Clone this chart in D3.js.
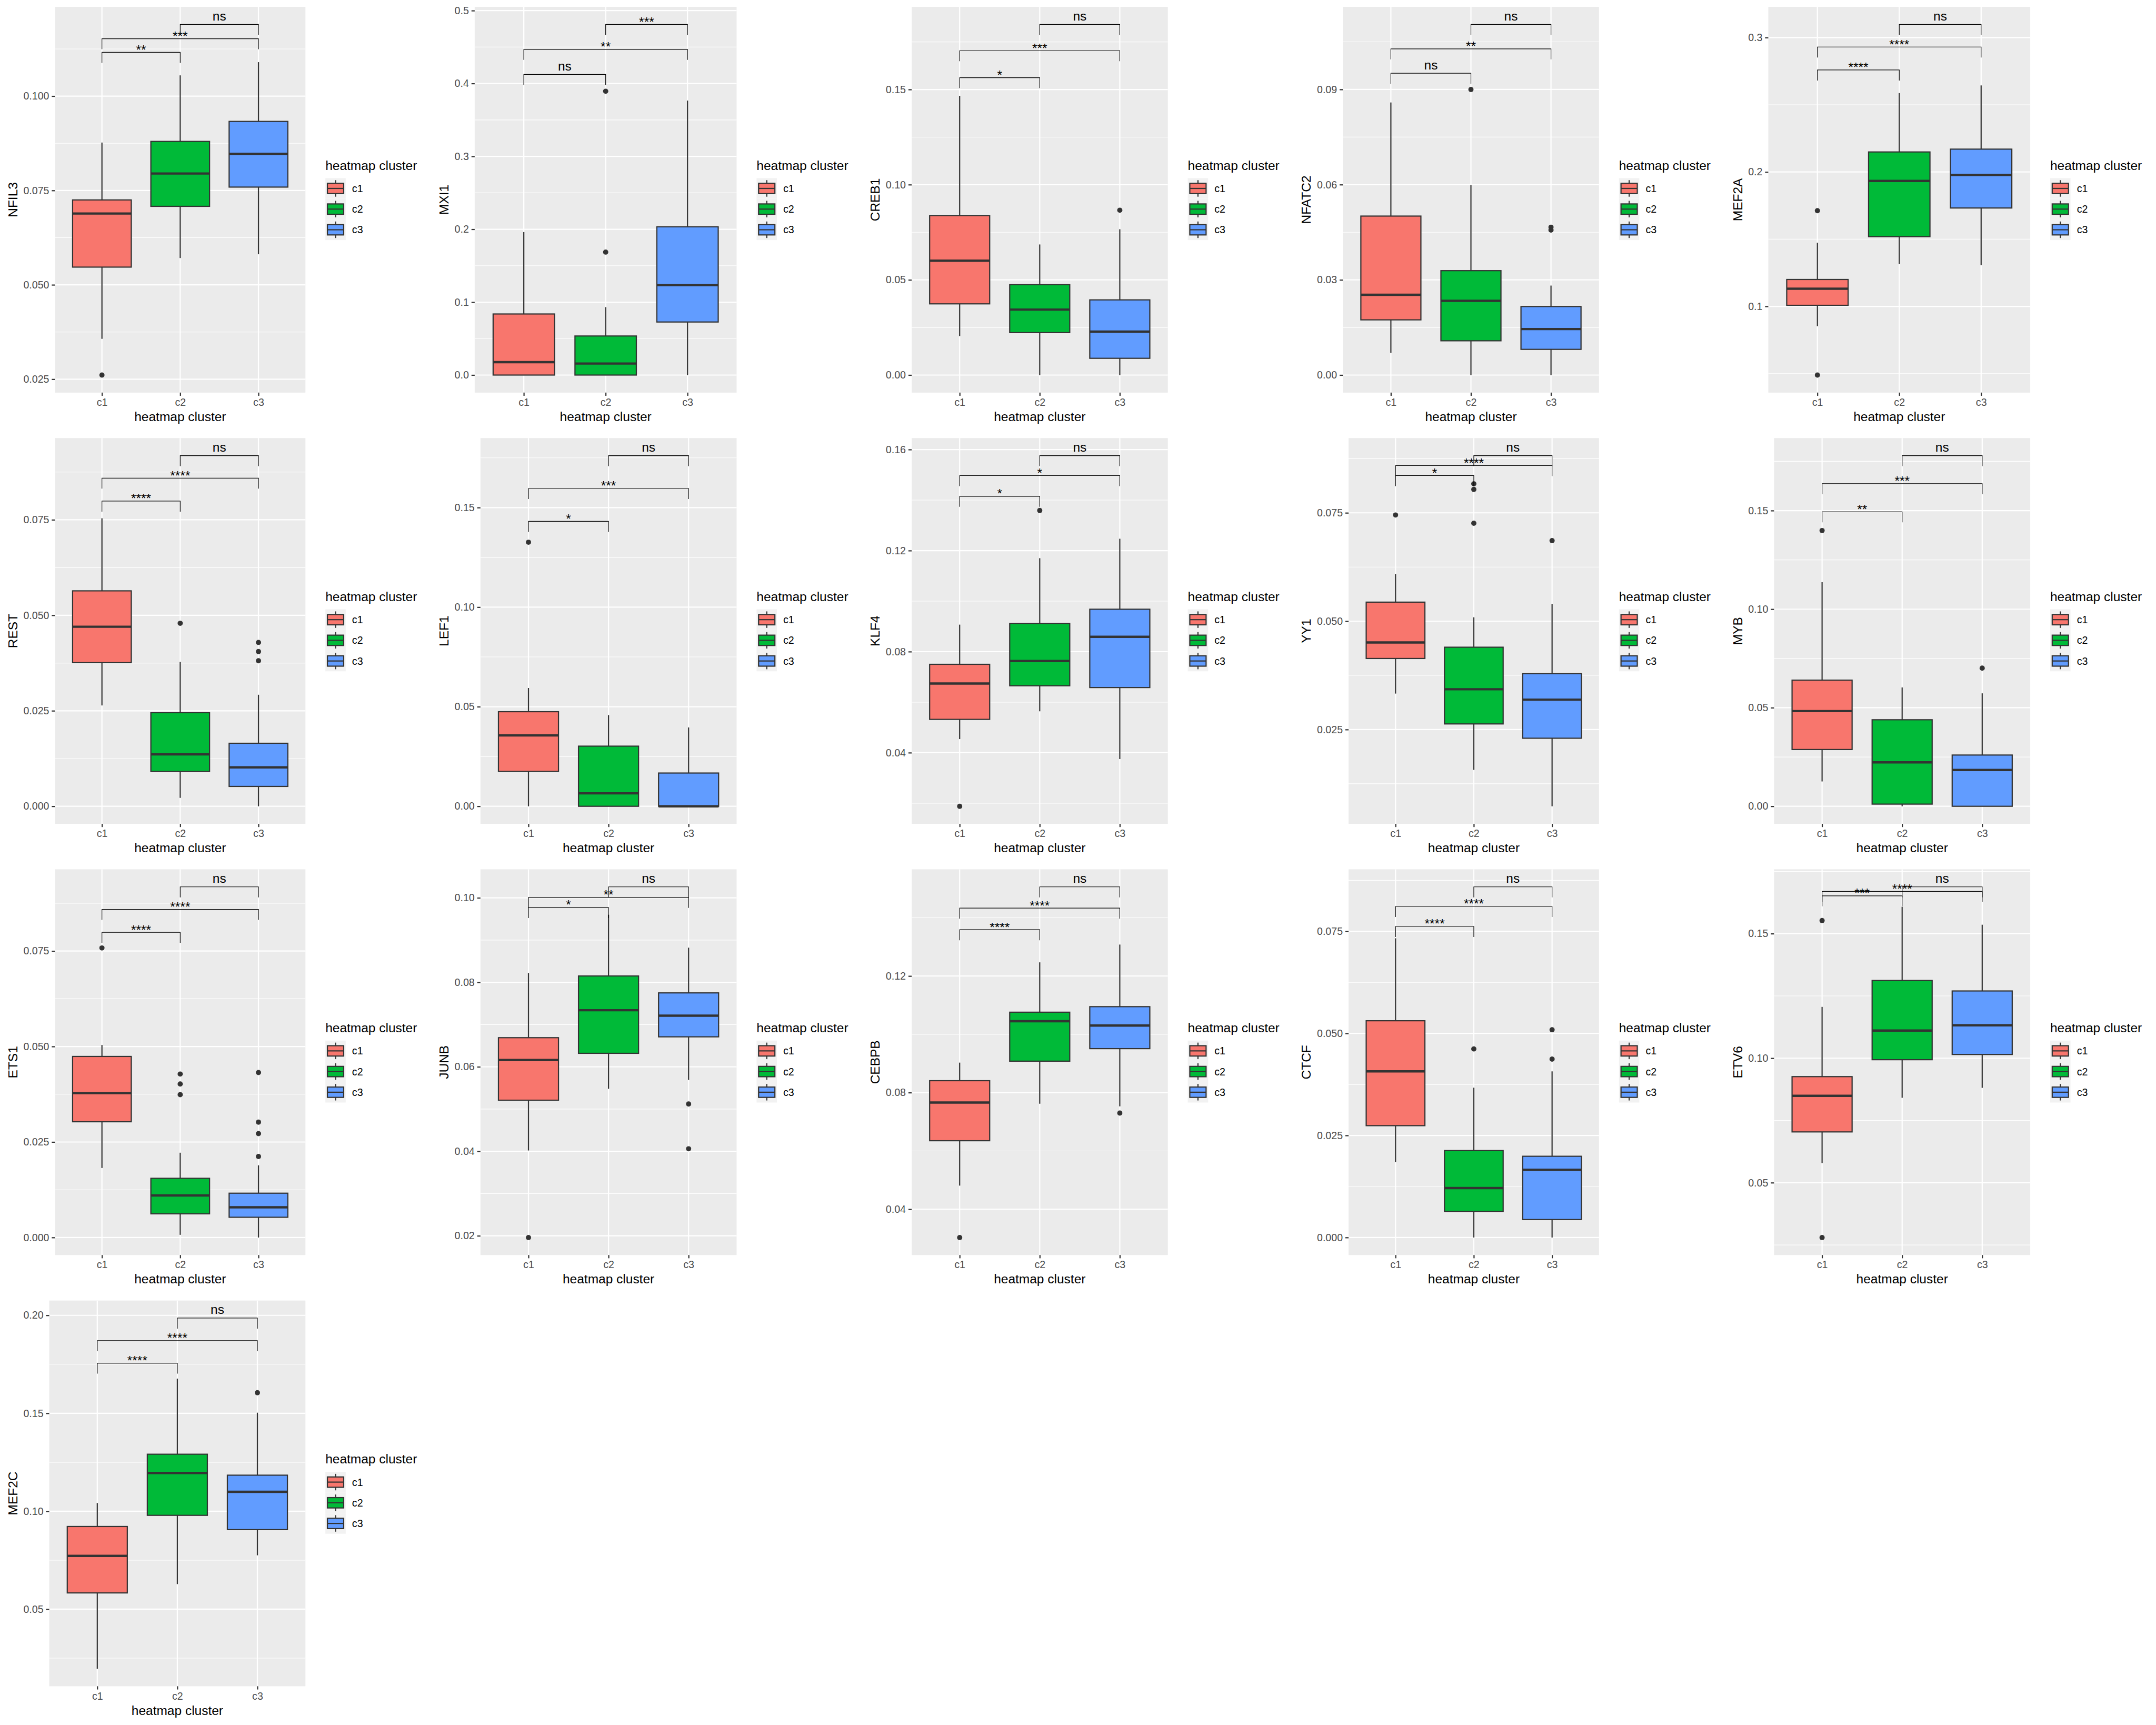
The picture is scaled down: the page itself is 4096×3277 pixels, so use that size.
<!DOCTYPE html>
<html><head><meta charset="utf-8">
<script src="https://cdn.jsdelivr.net/npm/d3@7"></script>
<style>html,body{margin:0;padding:0;background:#fff} svg{display:block}</style>
</head><body><svg id="chart" width="4096" height="3277"></svg>
<script>
// ---------------- data ----------------
const genes = ["NFIL3","MXI1","CREB1","NFATC2","MEF2A",
               "REST","LEF1","KLF4","YY1","MYB",
               "ETS1","JUNB","CEBPB","CTCF","ETV6",
               "MEF2C"];
const clusters = ["c1","c2","c3"];
const clusterColors = ["#F8766D","#00BA38","#619CFF"];
const xTitle = "heatmap cluster";
const legendTitle = "heatmap cluster";

const yTickLabels = [
  ["0.025","0.050","0.075","0.100"],
  ["0.0","0.1","0.2","0.3","0.4","0.5"],
  ["0.00","0.05","0.10","0.15"],
  ["0.00","0.03","0.06","0.09"],
  ["0.1","0.2","0.3"],
  ["0.000","0.025","0.050","0.075"],
  ["0.00","0.05","0.10","0.15"],
  ["0.04","0.08","0.12","0.16"],
  ["0.025","0.050","0.075"],
  ["0.00","0.05","0.10","0.15"],
  ["0.000","0.025","0.050","0.075"],
  ["0.02","0.04","0.06","0.08","0.10"],
  ["0.04","0.08","0.12"],
  ["0.000","0.025","0.050","0.075"],
  ["0.05","0.10","0.15"],
  ["0.05","0.10","0.15","0.20"]
];

// per gene, per cluster: [lower whisker, Q1, median, Q3, upper whisker]
const boxStats = [
  [[0.0357,0.0547,0.0689,0.0725,0.0877],[0.0571,0.0708,0.0795,0.0880,0.1055],[0.0581,0.0759,0.0847,0.0933,0.1090]],
  [[0,0,0.0177,0.0838,0.1962],[0,0,0.0158,0.0536,0.0932],[0,0.0728,0.1234,0.2034,0.3766]],
  [[0.0205,0.0374,0.0601,0.0838,0.1467],[0,0.0223,0.0344,0.0475,0.0686],[0,0.0088,0.0228,0.0395,0.0766]],
  [[0.0070,0.0174,0.0253,0.0501,0.0859],[0,0.0108,0.0234,0.0329,0.0599],[0,0.0081,0.0145,0.0216,0.0282]],
  [[0.0853,0.1008,0.1131,0.1200,0.1474],[0.1315,0.1519,0.1933,0.2149,0.2587],[0.1307,0.1732,0.1978,0.2170,0.2644]],
  [[0.0264,0.0376,0.0470,0.0564,0.0754],[0.0022,0.0091,0.0136,0.0245,0.0378],[0,0.0052,0.0102,0.0165,0.0292]],
  [[0,0.0175,0.0356,0.0475,0.0594],[0,0,0.0065,0.0302,0.0458],[0,0,0,0.0167,0.0396]],
  [[0.0454,0.0532,0.0674,0.0750,0.0907],[0.0564,0.0665,0.0763,0.0912,0.1170],[0.0375,0.0658,0.0859,0.0968,0.1247]],
  [[0.0333,0.0414,0.0451,0.0544,0.0609],[0.0157,0.0263,0.0343,0.0440,0.0509],[0.0073,0.0230,0.0319,0.0379,0.0540]],
  [[0.0126,0.0288,0.0483,0.0640,0.1137],[0,0.0011,0.0223,0.0439,0.0603],[0,0,0.0184,0.0260,0.0573]],
  [[0.0182,0.0303,0.0378,0.0474,0.0504],[0.0007,0.0062,0.0110,0.0155,0.0222],[0,0.0053,0.0079,0.0116,0.0189]],
  [[0.0402,0.0521,0.0616,0.0669,0.0822],[0.0548,0.0632,0.0734,0.0815,0.0960],[0.0569,0.0671,0.0721,0.0775,0.0882]],
  [[0.0481,0.0635,0.0766,0.0841,0.0903],[0.0762,0.0908,0.1045,0.1076,0.1247],[0.0753,0.0951,0.1030,0.1095,0.1308]],
  [[0.0185,0.0274,0.0407,0.0531,0.0733],[0,0.0064,0.0121,0.0213,0.0367],[0,0.0044,0.0166,0.0199,0.0407]],
  [[0.0579,0.0704,0.0849,0.0926,0.1206],[0.0841,0.0994,0.1111,0.1312,0.1608],[0.0881,0.1015,0.1132,0.1270,0.1536]],
  [[0.0196,0.0583,0.0772,0.0922,0.1042],[0.0628,0.0979,0.1195,0.1291,0.1677],[0.0775,0.0906,0.1099,0.1184,0.1503]]
];

const outliers = [
  [[0.0261],[],[]],
  [[],[0.1687,0.3894],[]],
  [[],[],[0.0866]],
  [[],[0.0900],[0.0466,0.0457]],
  [[0.1712,0.0489],[],[]],
  [[],[0.0479],[0.0429,0.0405,0.0381]],
  [[0.1326],[],[]],
  [[0.0188],[0.1359],[]],
  [[0.0745],[0.0817,0.0804,0.0726],[0.0686]],
  [[0.1399],[],[0.0701]],
  [[0.0758],[0.0428,0.0402,0.0374],[0.0432,0.0302,0.0272,0.0212]],
  [[0.0196],[],[0.0512,0.0406]],
  [[0.0303],[],[0.0730]],
  [[],[0.0462],[0.0509,0.0437]],
  [[0.1553,0.0280],[],[]],
  [[],[],[0.1605]]
];

// comparisons: c1-c2, c1-c3, c2-c3
const bracketPairs = [[0,1],[0,2],[1,2]];
const bracketY = [
  [0.1116,0.1152,0.1190],
  [0.4125,0.4468,0.4811],
  [0.1562,0.1704,0.1842],
  [0.0951,0.1028,0.1105],
  [0.2759,0.2930,0.3098],
  [0.0799,0.0859,0.0918],
  [0.1431,0.1596,0.1761],
  [0.1415,0.1497,0.1576],
  [0.0836,0.0859,0.0882],
  [0.1494,0.1637,0.1779],
  [0.0799,0.0859,0.0918],
  [0.0977,0.1001,0.1026],
  [0.1359,0.1433,0.1506],
  [0.0762,0.0811,0.0859],
  [0.1652,0.1670,0.1688],
  [0.1756,0.1871,0.1986]
];
const bracketLabels = [
  ["**","***","ns"],
  ["ns","**","***"],
  ["*","***","ns"],
  ["ns","**","ns"],
  ["****","****","ns"],
  ["****","****","ns"],
  ["*","***","ns"],
  ["*","*","ns"],
  ["*","****","ns"],
  ["**","***","ns"],
  ["****","****","ns"],
  ["*","**","ns"],
  ["****","****","ns"],
  ["****","****","ns"],
  ["***","****","ns"],
  ["****","****","ns"]
];

// ---------------- layout (reference units, scaled at the end) ----------------
const S = 4096 / 4800;
const PW = 960, PH = 960, NCOL = 5;
const FONT = "'Liberation Sans', Arial, Helvetica, sans-serif";
const TITLE_FS = 28.7, TICK_FS = 23;
const GREY20 = "#333333", GREY30 = "#4D4D4D";
const PTOP = 15.3, PBOT = 874, PRIGHT = 680, LABEL_LEFT = 52;
const TICK_LEN = 7.2, TICK_PAD = 5.7;

const svg = d3.select("#chart");
svg.append("rect").attr("width",4096).attr("height",3277).attr("fill","#fff");
const root = svg.append("g").attr("transform", `scale(${S})`);

genes.forEach((gene, i) => {
  const col = i % NCOL, row = Math.floor(i / NCOL);
  const g = root.append("g").attr("transform", `translate(${col*PW},${row*PH})`);

  const labels = yTickLabels[i];
  const ticks = labels.map(Number);

  // measure tick label widths
  const meas = g.append("g").attr("font-family", FONT).attr("font-size", TICK_FS);
  let w = 0;
  labels.forEach(l => {
    const t = meas.append("text").text(l);
    w = Math.max(w, t.node().getComputedTextLength());
  });
  meas.remove();
  const PLEFT = LABEL_LEFT + w + TICK_PAD + TICK_LEN;

  const stats = boxStats[i];
  const lo = d3.min([...stats.map(s => s[0]), ...outliers[i].flat()]);
  const hi = d3.max(bracketY[i]);
  const pad = (hi - lo) * 0.05;
  const y = d3.scaleLinear().domain([lo - pad, hi + pad]).range([PBOT, PTOP]);
  const x = d3.scalePoint().domain(clusters).range([PLEFT, PRIGHT]).padding(0.6);
  const step = x.step();
  const bw = step * 0.75;

  // panel background
  g.append("rect").attr("x", PLEFT).attr("y", PTOP)
    .attr("width", PRIGHT - PLEFT).attr("height", PBOT - PTOP).attr("fill", "#EBEBEB");

  // minor grid
  const tstep = ticks[1] - ticks[0];
  const [d0, d1] = y.domain();
  const minors = [];
  for (let k = -3; k < ticks.length + 3; k++) {
    const v = ticks[0] + (k + 0.5) * tstep;
    if (v > d0 && v < d1) minors.push(v);
  }
  g.append("g").selectAll("line").data(minors).join("line")
    .attr("x1", PLEFT).attr("x2", PRIGHT)
    .attr("y1", d => y(d)).attr("y2", d => y(d))
    .attr("stroke", "#fff").attr("stroke-width", 1.3);
  // major grid
  g.append("g").selectAll("line").data(ticks).join("line")
    .attr("x1", PLEFT).attr("x2", PRIGHT)
    .attr("y1", d => y(d)).attr("y2", d => y(d))
    .attr("stroke", "#fff").attr("stroke-width", 2.6);
  g.append("g").selectAll("line").data(clusters).join("line")
    .attr("x1", d => x(d)).attr("x2", d => x(d))
    .attr("y1", PTOP).attr("y2", PBOT)
    .attr("stroke", "#fff").attr("stroke-width", 2.6);

  // boxplots
  const bx = g.append("g");
  clusters.forEach((c, j) => {
    const s = stats[j];
    const cx = x(c);
    bx.append("g").selectAll("circle").data(outliers[i][j]).join("circle")
      .attr("cx", cx).attr("cy", d => y(d)).attr("r", 5.8).attr("fill", GREY20);
    bx.append("line").attr("x1", cx).attr("x2", cx).attr("y1", y(s[3])).attr("y2", y(s[4]))
      .attr("stroke", GREY20).attr("stroke-width", 2.6);
    bx.append("line").attr("x1", cx).attr("x2", cx).attr("y1", y(s[1])).attr("y2", y(s[0]))
      .attr("stroke", GREY20).attr("stroke-width", 2.6);
    bx.append("rect").attr("x", cx - bw/2).attr("width", bw)
      .attr("y", y(s[3])).attr("height", Math.max(0, y(s[1]) - y(s[3])))
      .attr("fill", clusterColors[j]).attr("stroke", GREY20).attr("stroke-width", 2.6);
    bx.append("line").attr("x1", cx - bw/2).attr("x2", cx + bw/2)
      .attr("y1", y(s[2])).attr("y2", y(s[2]))
      .attr("stroke", GREY20).attr("stroke-width", 5.2);
  });

  // significance brackets
  const tip = 0.03 * (hi - lo);
  const sg = g.append("g");
  bracketPairs.forEach((p, k) => {
    const v = bracketY[i][k];
    const xa = x(clusters[p[0]]), xb = x(clusters[p[1]]);
    sg.append("path")
      .attr("d", `M${xa},${y(v - tip)}L${xa},${y(v)}L${xb},${y(v)}L${xb},${y(v - tip)}`)
      .attr("fill", "none").attr("stroke", "#000").attr("stroke-width", 1.4);
    const lab = bracketLabels[i][k];
    sg.append("text").text(lab)
      .attr("x", (xa + xb) / 2)
      .attr("y", y(v) + (lab.includes("*") ? 4 : -9))
      .attr("text-anchor", "middle").attr("font-family", FONT)
      .attr("font-size", TITLE_FS).attr("fill", "#000");
  });

  // y axis
  const ya = g.append("g").attr("transform", `translate(${PLEFT},0)`)
    .call(d3.axisLeft(y).tickValues(ticks).tickFormat((d, k) => labels[k])
      .tickSize(TICK_LEN).tickPadding(TICK_PAD));
  ya.select(".domain").remove();
  ya.selectAll("line").attr("stroke", GREY20).attr("stroke-width", 2.6);
  ya.selectAll("text").attr("fill", GREY30).attr("font-family", FONT).attr("font-size", TICK_FS);

  // x axis
  const xa = g.append("g").attr("transform", `translate(0,${PBOT})`)
    .call(d3.axisBottom(x).tickSize(TICK_LEN).tickPadding(6.0));
  xa.select(".domain").remove();
  xa.selectAll("line").attr("stroke", GREY20).attr("stroke-width", 2.6);
  xa.selectAll("text").attr("fill", GREY30).attr("font-family", FONT).attr("font-size", TICK_FS);

  // axis titles
  g.append("text").text(xTitle)
    .attr("x", (PLEFT + PRIGHT) / 2).attr("y", 937.5)
    .attr("text-anchor", "middle").attr("font-family", FONT).attr("font-size", TITLE_FS);
  g.append("text").text(gene)
    .attr("transform", `translate(38.5,${(PTOP + PBOT) / 2}) rotate(-90)`)
    .attr("text-anchor", "middle").attr("font-family", FONT).attr("font-size", TITLE_FS);

  // legend
  const lg = g.append("g").attr("transform", "translate(724.4,0)");
  lg.append("text").text(legendTitle).attr("x", 0).attr("y", 378)
    .attr("font-family", FONT).attr("font-size", TITLE_FS);
  const KW = 45.3, KH = 46, K0 = 396.5;
  clusters.forEach((c, j) => {
    const ky = K0 + j * KH;
    lg.append("rect").attr("x", 0).attr("y", ky).attr("width", KW).attr("height", KH).attr("fill", "#F2F2F2");
    lg.append("line").attr("x1", KW/2).attr("x2", KW/2).attr("y1", ky + 0.1*KH).attr("y2", ky + 0.9*KH)
      .attr("stroke", GREY20).attr("stroke-width", 2.6);
    lg.append("rect").attr("x", 0.1*KW).attr("width", 0.8*KW).attr("y", ky + 0.25*KH).attr("height", 0.5*KH)
      .attr("fill", clusterColors[j]).attr("stroke", GREY20).attr("stroke-width", 2.6);
    lg.append("line").attr("x1", 0.1*KW).attr("x2", 0.9*KW).attr("y1", ky + 0.5*KH).attr("y2", ky + 0.5*KH)
      .attr("stroke", GREY20).attr("stroke-width", 2.6);
    lg.append("text").text(c).attr("x", 59.4).attr("y", ky + KH/2 + 8.2)
      .attr("font-family", FONT).attr("font-size", TICK_FS).attr("fill", "#000");
  });
});
</script>
</body></html>
